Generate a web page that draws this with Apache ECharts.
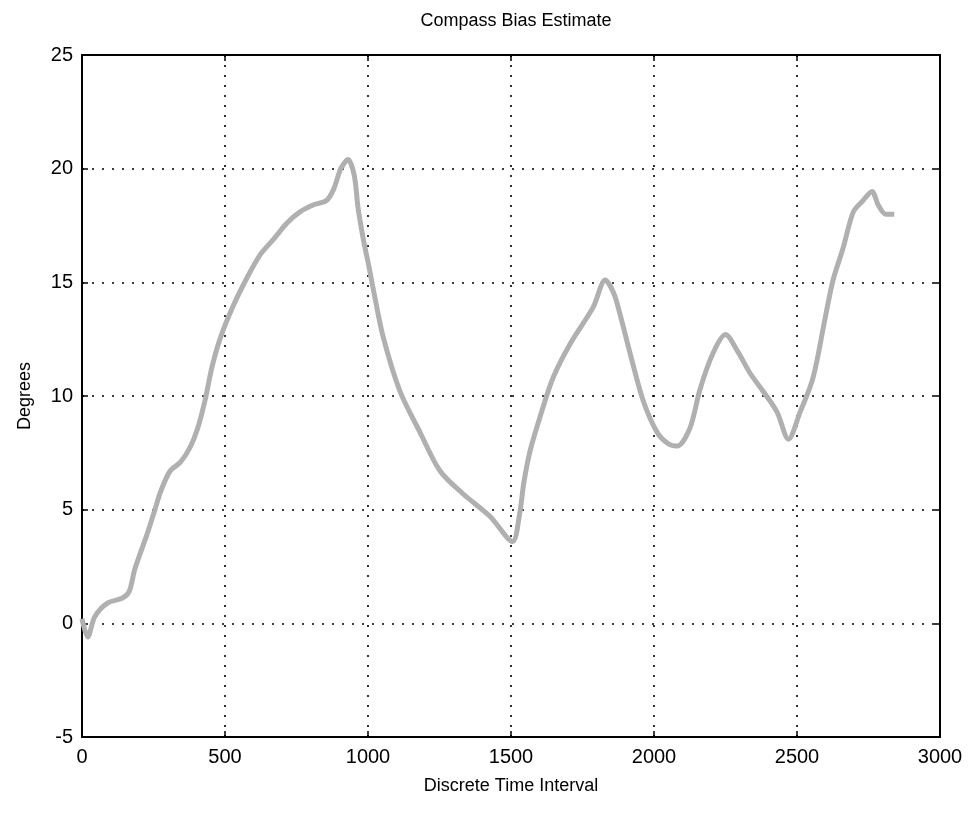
<!DOCTYPE html>
<html>
<head>
<meta charset="utf-8">
<title>Compass Bias Estimate</title>
<script src="https://cdn.jsdelivr.net/npm/echarts@6/dist/echarts.min.js"></script>
<style>
  html, body { margin: 0; padding: 0; background: #fff; }
  #tu_1 { width: 974px; height: 813px; }
</style>
</head>
<body>
<div id="tu_1"></div>
<script>
// 读图估计的数据 (time step, degrees)
var tList = [0, 20, 45, 90, 140, 165, 185, 227, 255, 275, 308, 345, 380, 405, 430, 455, 485, 530, 577, 622,
  670, 716, 762, 808, 855, 880, 905, 930, 952, 965, 985, 1000, 1020, 1053, 1112, 1182, 1252, 1332, 1427, 1505,
  1530, 1545, 1567, 1602, 1647, 1707, 1787, 1830, 1860, 1881, 1916, 1962, 2011, 2050, 2081, 2126, 2161, 2207,
  2250, 2291, 2336, 2382, 2430, 2470, 2511, 2556, 2598, 2626, 2661, 2697, 2731, 2762, 2784, 2810, 2840];
var biasList = [0.2, -0.6, 0.3, 0.9, 1.1, 1.4, 2.4, 3.9, 5.0, 5.8, 6.7, 7.1, 7.8, 8.6, 9.8, 11.3, 12.6, 14.0, 15.2, 16.2,
  16.9, 17.6, 18.1, 18.4, 18.6, 19.1, 20.0, 20.4, 19.7, 18.3, 16.8, 15.9, 14.6, 12.6, 10.2, 8.4, 6.7, 5.7, 4.7, 3.6,
  4.8, 6.2, 7.6, 9.1, 10.8, 12.3, 13.9, 15.1, 14.5, 13.6, 11.9, 9.8, 8.4, 7.9, 7.8, 8.6, 10.3, 11.9,
  12.7, 12.0, 11.0, 10.2, 9.3, 8.1, 9.3, 10.8, 13.4, 15.1, 16.5, 18.1, 18.6, 19.0, 18.4, 18.0, 18.0];
var xTicks = [0, 500, 1000, 1500, 2000, 2500, 3000];
var yTicks = [-5, 0, 5, 10, 15, 20, 25];

var font = "'Liberation Sans Narrow', 'Liberation Sans', Arial, sans-serif";
var myChart_1;
window.onresize = function () {
	if (myChart_1) { myChart_1.resize(); }
};

function a1() {
	myChart_1 = echarts.init(document.getElementById('tu_1'));
	var pts = [];
	for (var i = 0; i < tList.length; i++) {
		pts.push([tList[i], biasList[i]]);
	}
	var gridDots = { show: true, lineStyle: { color: '#000', width: 1.6, type: [2, 8] } };
	var frame = { show: true, onZero: false, lineStyle: { color: '#000', width: 2 } };
	var tick = { show: true, inside: true, length: 6, lineStyle: { color: '#000', width: 1.5 } };
	var plain = function (v) { return String(v); };
	var option = {
		animation: false,
		backgroundColor: '#fff',
		title: {
			text: 'Compass Bias Estimate',
			left: 511, top: 7, textAlign: 'center',
			textStyle: { fontFamily: font, fontWeight: 'normal', fontSize: 18, color: '#000' }
		},
		grid: { left: 82, right: 34, top: 55, bottom: 76 },
		xAxis: [{
			type: 'value', min: xTicks[0], max: xTicks[xTicks.length - 1], interval: 500,
			name: 'Discrete Time Interval', nameLocation: 'middle', nameGap: 40,
			nameTextStyle: { fontFamily: font, fontSize: 18, color: '#000' },
			axisLine: frame, axisTick: tick,
			axisLabel: { fontFamily: font, fontSize: 20, color: '#000', margin: 10, formatter: plain },
			splitLine: gridDots
		}, {
			type: 'value', position: 'top', min: xTicks[0], max: xTicks[xTicks.length - 1], interval: 500,
			axisLine: frame, axisTick: tick,
			axisLabel: { show: false },
			splitLine: { show: false }
		}],
		yAxis: [{
			type: 'value', min: yTicks[0], max: yTicks[yTicks.length - 1], interval: 5,
			name: 'Degrees', nameLocation: 'middle', nameGap: 48, nameRotate: 90,
			nameTextStyle: { fontFamily: font, fontSize: 18, color: '#000' },
			axisLine: frame, axisTick: tick,
			axisLabel: { fontFamily: font, fontSize: 20, color: '#000', margin: 9, formatter: plain },
			splitLine: gridDots
		}, {
			type: 'value', position: 'right', min: yTicks[0], max: yTicks[yTicks.length - 1], interval: 5,
			axisLine: frame, axisTick: tick,
			axisLabel: { show: false },
			splitLine: { show: false }
		}],
		series: [{
			name: 'bias',
			type: 'line',
			data: pts,
			showSymbol: false,
			smooth: 0.3,
			lineStyle: { color: '#b0b0b0', width: 5 }
		}]
	};
	myChart_1.setOption(option);
}
a1();
</script>
</body>
</html>
